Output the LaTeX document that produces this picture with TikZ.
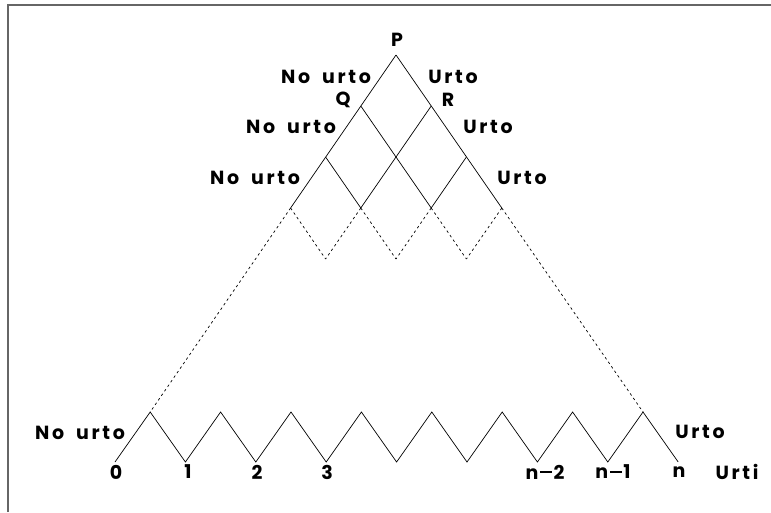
\documentclass[tikz,border=0pt]{standalone}
\usepackage{fontspec}
\setmainfont{Poppins}[LetterSpace=14,WordSpace=1.8]
\usepackage{tikz}
\usetikzlibrary{calc}
\newcommand{\nminus}{\hspace{0.1em}\rule[0.32em]{0.6em}{1.8pt}\hspace{0.1em}}

\begin{document}
\begin{tikzpicture}[x=1pt,y=-1pt,font=\fontsize{19}{19}\selectfont\bfseries,
    edge/.style={line width=0.7pt},
    dots/.style={line width=0.7pt,dash pattern=on 2.5pt off 3pt},
    lbl/.style={inner sep=0pt}]
    \useasboundingbox (0,0) rectangle (771,512);
    % frame
    \draw[gray!80!black,line width=1.6pt] (8,512) -- (8,5) -- (771,5);
    % lattice
    \coordinate (P) at (396,55);
    \coordinate (Q) at (360.8,106);
    \coordinate (R) at (431.2,106);
    \coordinate (A0) at (325.6,157);
    \coordinate (A1) at (396,157);
    \coordinate (A2) at (466.4,157);
    \coordinate (B0) at (290.6,208);
    \coordinate (B1) at (360.8,208);
    \coordinate (B2) at (431.2,208);
    \coordinate (B3) at (501.8,208);
    \coordinate (C0) at (325.6,259);
    \coordinate (C1) at (396,259);
    \coordinate (C2) at (466.4,259);
    % bottom row
    \foreach \i in {0,...,8} {
      \coordinate (V\i) at (115+70.4*\i,462);
    }
    \foreach \i in {1,...,8} {
      \coordinate (T\i) at (79.8+70.4*\i,412);
    }
    \path[edge]
      (P) edge (B0)
      (P) edge (B3)
      (Q) edge (B2)
      (R) edge (B1)
      (A0) edge (B1)
      (A2) edge (B2);
    \path[dots]
      (B0) edge (T1)
      (B3) edge (T8)
      (B0) edge (C0) (B1) edge (C0)
      (B1) edge (C1) (B2) edge (C1)
      (B2) edge (C2) (B3) edge (C2);
    \draw[edge] (V0) \foreach \i in {1,...,8} { -- (T\i) -- (V\i) };
    % labels
    \node[lbl] (lP) at (397,40) {P};
    \node[lbl] (lQ) at (343,100) {Q};
    \node[lbl] (lR) at (448,100) {R};
    \node[lbl] (n1) at (326,77) {No urto};
    \node[lbl] (u1) at (453,77) {Urto};
    \node[lbl] (n2) at (291,127) {No urto};
    \node[lbl] (u2) at (488,127) {Urto};
    \node[lbl] (n3) at (255,178) {No urto};
    \node[lbl] (u3) at (522,178) {Urto};
    \node[lbl] (n4) at (80,433) {No urto};
    \node[lbl] (u4) at (700,432) {Urto};
    \node[lbl] (k0) at (116,472) {0};
    \node[lbl] (k1) at (188,472) {1};
    \node[lbl] (k2) at (257,472) {2};
    \node[lbl] (k3) at (327,472) {3};
    \node[lbl] (kn2) at (545,472) {n\nminus2};
    \node[lbl] (kn1) at (613,472) {n\nminus1};
    \node[lbl] (kn) at (679,472) {n};
    \node[lbl] (ur) at (737,472) {Urti};
\end{tikzpicture}
\end{document}
